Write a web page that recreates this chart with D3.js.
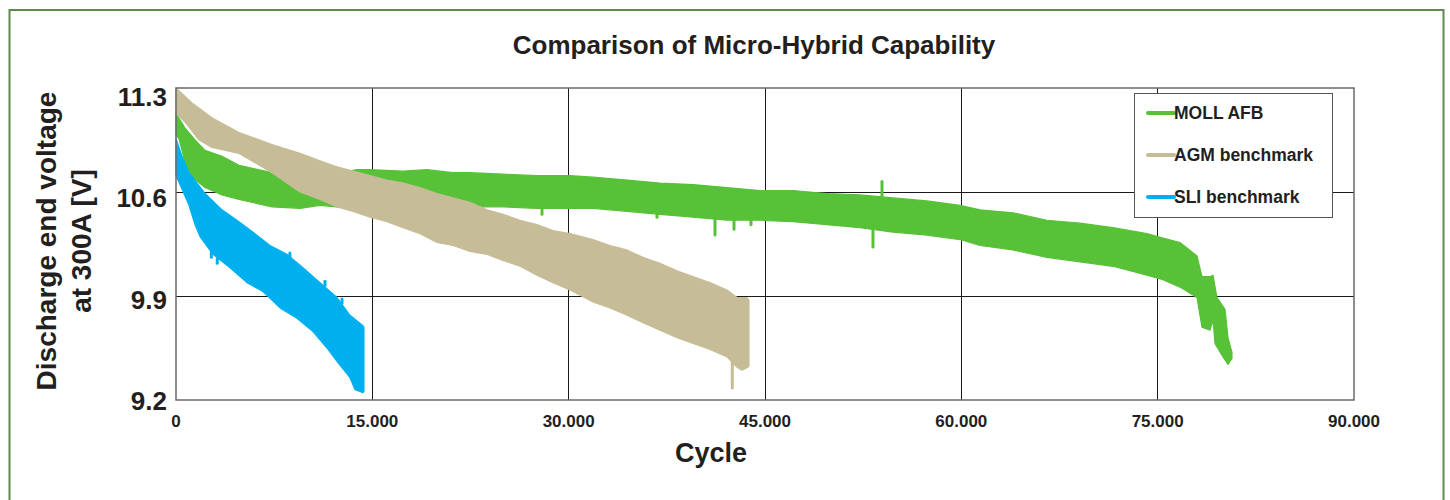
<!DOCTYPE html>
<html>
<head>
<meta charset="utf-8">
<script src="https://cdn.jsdelivr.net/npm/d3@7"></script>
<style>
  html, body { margin: 0; padding: 0; background: #fff; }
  svg { display: block; }
  text { font-family: "Liberation Sans", Arial, sans-serif; font-weight: bold; fill: #231f20; }
</style>
</head>
<body>
<svg id="chart" width="1450" height="500"></svg>
<script>
// ---------- DATA ----------
const title = "Comparison of Micro-Hybrid Capability";
const xTicks = [0, 15000, 30000, 45000, 60000, 75000, 90000];
const xTickLabels = ["0", "15.000", "30.000", "45.000", "60.000", "75.000", "90.000"];
const yTicks = [11.3, 10.6, 9.9, 9.2];
const yTickLabels = ["11.3", "10.6", "9.9", "9.2"];
const seriesNames = ["MOLL AFB", "AGM benchmark", "SLI benchmark"];
const seriesColors = ["#57c138", "#c6bd98", "#00b0ee"];

// band envelopes [cycle, volts]
const mollUpper = [[0,11.13],[688,11.03],[1452,10.95],[2216,10.88],[3514,10.84],[4813,10.78],[7335,10.73],[9474,10.69],
  [11766,10.72],[13830,10.75],[14822,10.75],[17343,10.74],[19176,10.75],[21163,10.73],[22462,10.73],[24983,10.72],
  [27580,10.71],[30102,10.71],[31859,10.70],[34457,10.68],[36978,10.66],[39499,10.65],[42097,10.63],[44618,10.61],
  [47139,10.61],[49736,10.59],[52257,10.58],[54778,10.56],[57376,10.54],[59897,10.51],[61425,10.48],[63947,10.46],
  [66544,10.41],[69065,10.39],[71586,10.36],[74184,10.32],[75407,10.29],[76705,10.26],[78004,10.17],[78386,10.03],
  [78997,10.03],[79227,10.04],[79532,9.89],[80144,9.81],[80373,9.62],[80679,9.52]];
const mollLower = [[0,10.98],[229,10.96],[688,10.80],[1222,10.70],[2216,10.63],[3514,10.58],[4813,10.55],[7335,10.50],
  [9474,10.49],[11002,10.51],[12300,10.50],[17343,10.51],[19940,10.51],[22462,10.50],[24983,10.50],[27580,10.49],
  [30102,10.49],[31859,10.49],[34457,10.47],[36978,10.45],[39499,10.43],[42097,10.41],[44618,10.41],[47139,10.40],
  [49736,10.38],[52257,10.36],[54778,10.33],[57376,10.31],[59897,10.28],[61425,10.24],[63947,10.21],[66544,10.16],
  [69065,10.13],[71586,10.10],[74184,10.04],[75407,10.01],[76705,9.96],[78004,9.89],[78386,9.69],[78997,9.67],
  [79227,9.74],[79380,9.58],[79991,9.49],[80373,9.44],[80679,9.48]];

const agmUpper = [[0,11.30],[1222,11.20],[2750,11.10],[4813,11.00],[7335,10.92],[9474,10.86],[11002,10.81],[12300,10.77],
  [13523,10.74],[14822,10.71],[16120,10.68],[17343,10.66],[18642,10.63],[19940,10.59],[21163,10.56],[22462,10.53],
  [23760,10.48],[24983,10.45],[26281,10.41],[27580,10.38],[28803,10.34],[30102,10.32],[31859,10.28],[33158,10.24],
  [34457,10.21],[35679,10.16],[36978,10.12],[38277,10.07],[39499,10.03],[40798,9.99],[42097,9.94],[42860,9.89],
  [43624,9.89],[43777,9.87]];
const agmLower = [[0,11.13],[688,11.07],[1757,10.95],[2750,10.90],[4813,10.86],[7335,10.73],[9474,10.60],[11002,10.55],
  [12300,10.50],[13523,10.47],[14822,10.43],[16120,10.40],[17343,10.36],[18642,10.32],[19940,10.26],[21163,10.24],
  [22462,10.20],[23760,10.18],[24983,10.14],[26281,10.10],[27580,10.04],[28803,9.99],[30102,9.94],[31859,9.86],
  [33158,9.82],[34457,9.77],[35679,9.72],[36978,9.67],[38277,9.62],[39499,9.58],[40798,9.54],[42097,9.49],
  [42860,9.42],[43242,9.40],[43700,9.42],[43777,9.43]];

const sliUpper = [[0,10.96],[458,10.84],[993,10.73],[2216,10.59],[3514,10.48],[4813,10.40],[5883,10.33],[7182,10.24],
  [8481,10.18],[9703,10.09],[11002,9.99],[12300,9.89],[13293,9.77],[14287,9.70],[14360,9.69]];
const sliLower = [[0,10.71],[306,10.65],[993,10.51],[1452,10.38],[1834,10.30],[2827,10.18],[4126,10.09],[5424,9.99],
  [6647,9.93],[7946,9.82],[9244,9.75],[10467,9.66],[11536,9.55],[12300,9.46],[13293,9.35],[13675,9.27],
  [14287,9.25],[14360,9.26]];

// isolated spikes [cycle, from volts, to volts]
const mollSpikes = [[27962,10.49,10.45],[36748,10.45,10.43],[41180,10.42,10.31],[42631,10.41,10.35],
  [43930,10.41,10.38],[53250,10.35,10.23],[53938,10.57,10.67]];
const agmSpikes = [[42500,9.47,9.28]];
const sliSpikes = [[2700,10.20,10.16],[3150,10.15,10.12],[11383,9.97,10.00],[12682,9.85,9.88],[8700,10.16,10.19]];

// ---------- LAYOUT ----------
const svg = d3.select("#chart");
const plot = { left: 176, right: 1354, top: 88, bottom: 400 };

const x = d3.scaleLinear().domain([0, 90000]).range([plot.left, plot.right]);
const y = d3.scaleLinear().domain([9.2, 11.3]).range([plot.bottom, plot.top]);
const yLabelPos = d3.scaleLinear().domain([9.2, 11.3]).range([410, 106]);

// outer frame
svg.append("rect")
  .attr("x", 9.5).attr("y", 10).attr("width", 1434).attr("height", 520)
  .attr("fill", "none").attr("stroke", "#5f8a4e").attr("stroke-width", 2);

// title
svg.append("text").attr("x", 754).attr("y", 54).attr("text-anchor", "middle")
  .style("font-size", "26px").text(title);

// gridlines
const grid = svg.append("g");
grid.selectAll("line.vx").data(xTicks.slice(1, -1)).join("line")
  .attr("x1", d => x(d)).attr("x2", d => x(d))
  .attr("y1", plot.top).attr("y2", plot.bottom)
  .attr("stroke", "#1a1a1a").attr("stroke-width", 1).attr("shape-rendering", "crispEdges");
grid.selectAll("line.hy").data(yTicks.slice(1, -1)).join("line")
  .attr("x1", plot.left).attr("x2", plot.right)
  .attr("y1", d => y(d)).attr("y2", d => y(d))
  .attr("stroke", "#1a1a1a").attr("stroke-width", 1).attr("shape-rendering", "crispEdges");

// bands
const line = d3.line().x(d => x(d[0])).y(d => y(d[1]));
function band(upper, lower, color) {
  const pts = upper.concat(lower.slice().reverse());
  svg.append("path").attr("d", line(pts) + "Z")
    .attr("fill", color).attr("stroke", color).attr("stroke-width", 1.2).attr("stroke-linejoin", "round");
}
function spikes(data, color) {
  svg.append("g").selectAll("line").data(data).join("line")
    .attr("x1", d => x(d[0])).attr("x2", d => x(d[0]))
    .attr("y1", d => y(d[1])).attr("y2", d => y(d[2]))
    .attr("stroke", color).attr("stroke-width", 3).attr("stroke-linecap", "round");
}
band(mollUpper, mollLower, seriesColors[0]);
spikes(mollSpikes, seriesColors[0]);
band(agmUpper, agmLower, seriesColors[1]);
spikes(agmSpikes, seriesColors[1]);
band(sliUpper, sliLower, seriesColors[2]);
spikes(sliSpikes, seriesColors[2]);

// plot frame
svg.append("rect")
  .attr("x", plot.left).attr("y", plot.top)
  .attr("width", plot.right - plot.left).attr("height", plot.bottom - plot.top)
  .attr("fill", "none").attr("stroke", "#6a6a6a").attr("stroke-width", 1.5);

// axes tick labels
svg.append("g").selectAll("text").data(xTicks).join("text")
  .attr("x", d => x(d)).attr("y", 427).attr("text-anchor", "middle")
  .style("font-size", "17px").text((d, i) => xTickLabels[i]);
svg.append("g").selectAll("text").data(yTicks).join("text")
  .attr("x", 167).attr("y", d => yLabelPos(d)).attr("text-anchor", "end")
  .style("font-size", "26px").text((d, i) => yTickLabels[i]);

// axis titles
svg.append("text").attr("x", 711).attr("y", 462).attr("text-anchor", "middle")
  .style("font-size", "27px").text("Cycle");
svg.append("text").attr("transform", "translate(56,241) rotate(-90)").attr("text-anchor", "middle")
  .style("font-size", "28px").text("Discharge end voltage");
svg.append("text").attr("transform", "translate(91,241) rotate(-90)").attr("text-anchor", "middle")
  .style("font-size", "28px").text("at 300A [V]");

// legend
const lg = svg.append("g");
lg.append("rect").attr("x", 1134.5).attr("y", 93.5).attr("width", 198).attr("height", 124)
  .attr("fill", "#fff").attr("stroke", "#555").attr("stroke-width", 1);
const legendY = [113, 155, 197];
seriesNames.forEach((name, i) => {
  lg.append("line").attr("x1", 1148).attr("x2", 1174).attr("y1", legendY[i]).attr("y2", legendY[i])
    .attr("stroke", seriesColors[i]).attr("stroke-width", 4).attr("stroke-linecap", "round");
  lg.append("text").attr("x", 1174).attr("y", legendY[i] + 6).style("font-size", "17.5px").text(name);
});
</script>
</body>
</html>
